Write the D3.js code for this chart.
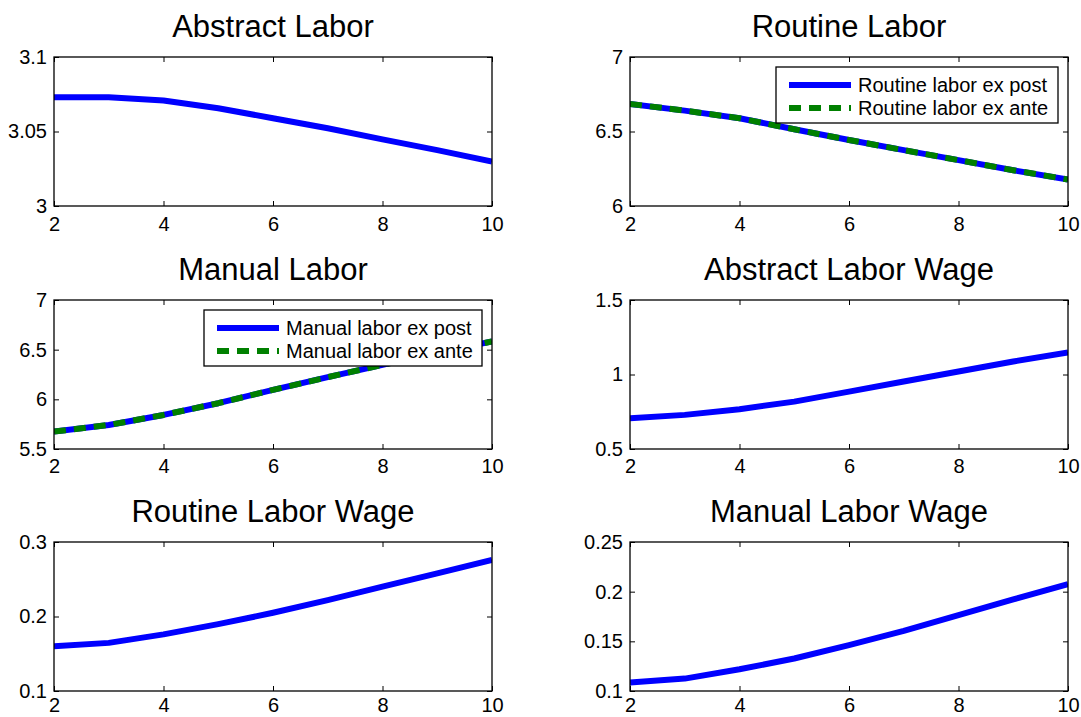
<!DOCTYPE html>
<html>
<head>
<meta charset="utf-8">
<script src="https://cdn.jsdelivr.net/npm/d3@7"></script>
<style>
  body { margin: 0; background: #fff; }
  svg { display: block; font-family: "Liberation Sans", Arial, sans-serif; }
</style>
</head>
<body>
<div id="chart"></div>
<script>
// data
const xValues = [2, 3, 4, 5, 6, 7, 8, 9, 10];
const xTicks = [2, 4, 6, 8, 10];

const abstractLabor = [3.073, 3.073, 3.0708, 3.0656, 3.0589, 3.0522, 3.0447, 3.0375, 3.0299];
const routineLaborPost = [6.685, 6.64, 6.589, 6.515, 6.443, 6.375, 6.308, 6.24, 6.178];
const routineLaborAnte = [6.685, 6.64, 6.589, 6.515, 6.443, 6.375, 6.308, 6.24, 6.178];
const manualLaborPost = [5.675, 5.742, 5.843, 5.961, 6.095, 6.223, 6.347, 6.47, 6.582];
const manualLaborAnte = [5.675, 5.742, 5.843, 5.961, 6.095, 6.223, 6.347, 6.47, 6.582];
const abstractWage = [0.706, 0.729, 0.767, 0.818, 0.885, 0.953, 1.02, 1.087, 1.148];
const routineWage = [0.160, 0.1646, 0.176, 0.1897, 0.205, 0.222, 0.240, 0.258, 0.2758];
const manualWage = [0.1085, 0.1125, 0.1219, 0.1327, 0.1461, 0.1605, 0.1764, 0.1922, 0.2076];

const titles = ["Abstract Labor", "Routine Labor", "Manual Labor",
                "Abstract Labor Wage", "Routine Labor Wage", "Manual Labor Wage"];
const yTickSets = [
  [3, 3.05, 3.1],
  [6, 6.5, 7],
  [5.5, 6, 6.5, 7],
  [0.5, 1, 1.5],
  [0.1, 0.2, 0.3],
  [0.1, 0.15, 0.2, 0.25]
];
const legendLabels = [
  null,
  ["Routine labor ex post", "Routine labor ex ante"],
  ["Manual labor ex post", "Manual labor ex ante"],
  null, null, null
];
const seriesSets = [
  [abstractLabor],
  [routineLaborPost, routineLaborAnte],
  [manualLaborPost, manualLaborAnte],
  [abstractWage],
  [routineWage],
  [manualWage]
];

const W = 1081, H = 717;
const cols = [[54, 492], [630, 1068]];
const rows = [[57, 206], [300, 449], [542, 691]];
const xPad = [11, 10, 7];   // bottom row sits tight against the page edge
const blue = "#0000ff", green = "#008000";
const lineW = 6;
const dash = "12,8";
const fontFam = "'Liberation Sans', Arial, sans-serif";

const svg = d3.select("#chart").append("svg")
  .attr("width", W).attr("height", H);

titles.forEach((title, i) => {
  const row = Math.floor(i / 2);
  const [x0, x1] = cols[i % 2];
  const [y0, y1] = rows[row];
  const yt = yTickSets[i];

  const x = d3.scaleLinear().domain([2, 10]).range([x0, x1]);
  const y = d3.scaleLinear().domain([yt[0], yt[yt.length - 1]]).range([y1, y0]);

  const g = svg.append("g");
  const clipId = "clip" + i;
  g.append("clipPath").attr("id", clipId)
    .append("rect").attr("x", x0).attr("y", y0)
    .attr("width", x1 - x0).attr("height", y1 - y0);

  // lines
  const line = d3.line().x((d, j) => x(xValues[j])).y(d => y(d));
  seriesSets[i].forEach((s, k) => {
    g.append("path")
      .datum(s)
      .attr("clip-path", `url(#${clipId})`)
      .attr("d", line)
      .attr("fill", "none")
      .attr("stroke", k === 0 ? blue : green)
      .attr("stroke-width", lineW)
      .attr("stroke-linejoin", "round")
      .attr("stroke-dasharray", k === 0 ? null : dash);
  });

  // axes, ticks inside on all four sides
  const fmt = d => String(d);
  const axB = g.append("g").attr("transform", `translate(0,${y1})`)
    .call(d3.axisBottom(x).tickValues(xTicks).tickSize(-5).tickPadding(xPad[row]).tickFormat(fmt));
  const axT = g.append("g").attr("transform", `translate(0,${y0})`)
    .call(d3.axisTop(x).tickValues(xTicks).tickSize(-5).tickFormat(""));
  const axL = g.append("g").attr("transform", `translate(${x0},0)`)
    .call(d3.axisLeft(y).tickValues(yt).tickSize(-5).tickPadding(7).tickFormat(fmt));
  const axR = g.append("g").attr("transform", `translate(${x1},0)`)
    .call(d3.axisRight(y).tickValues(yt).tickSize(-5).tickFormat(""));
  [axB, axT, axL, axR].forEach(a => {
    a.attr("font-family", fontFam).attr("font-size", 20);
    a.select(".domain").remove();
    a.selectAll("line").attr("stroke", "#000").attr("stroke-width", 1);
    a.selectAll("text").attr("fill", "#000");
  });

  g.append("rect")
    .attr("x", x0).attr("y", y0)
    .attr("width", x1 - x0).attr("height", y1 - y0)
    .attr("fill", "none").attr("stroke", "#000").attr("stroke-width", 1.3);

  // title
  g.append("text")
    .attr("x", (x0 + x1) / 2).attr("y", y0 - 20)
    .attr("text-anchor", "middle")
    .style("font-size", "31px")
    .text(title);

  // legend
  const labels = legendLabels[i];
  if (labels) {
    const lw = i === 1 ? 282 : 278;
    const lx = x1 - 10 - lw, ly = y0 + 10;
    const lg = g.append("g").attr("transform", `translate(${lx},${ly})`);
    lg.append("rect").attr("width", lw).attr("height", 56)
      .attr("fill", "#fff").attr("stroke", "#000").attr("stroke-width", 1.3);
    labels.forEach((lab, k) => {
      const ry = 18 + k * 23;
      lg.append("line")
        .attr("x1", 13).attr("x2", 75).attr("y1", ry).attr("y2", ry)
        .attr("stroke", k === 0 ? blue : green)
        .attr("stroke-width", lineW)
        .attr("stroke-dasharray", k === 0 ? null : dash);
      lg.append("text")
        .attr("x", 82).attr("y", ry).attr("dy", "0.35em")
        .style("font-size", "20px")
        .text(lab);
    });
  }
});
</script>
</body>
</html>
